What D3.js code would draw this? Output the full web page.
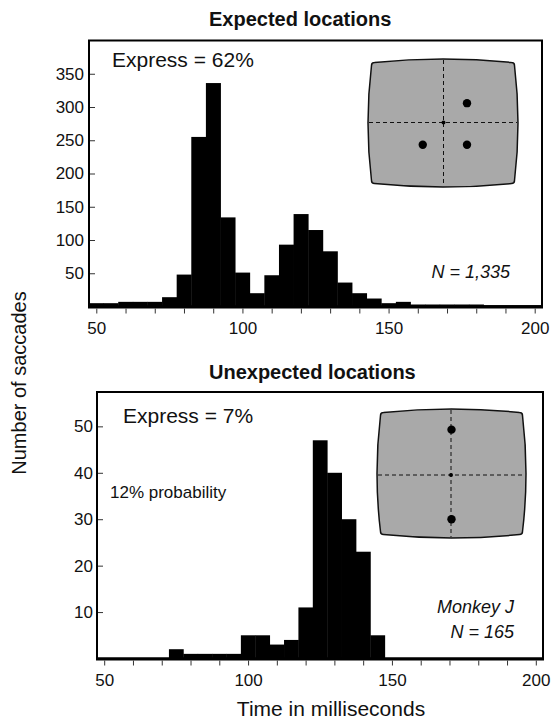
<!DOCTYPE html>
<html>
<head>
<meta charset="utf-8">
<script src="https://cdn.jsdelivr.net/npm/d3@7"></script>
<style>
  body { margin: 0; background: #fff; }
  text { font-family: "Liberation Sans", Arial, Helvetica, sans-serif; fill: #111; }
</style>
</head>
<body>
<svg id="chart" width="554" height="725"></svg>
<script>
// bin centres (ms), 5 ms bins
var binCenters = [50, 55, 60, 65, 70, 75, 80, 85, 90, 95, 100, 105, 110, 115, 120, 125,
                  130, 135, 140, 145, 150, 155, 160, 165, 170, 175, 180, 185, 190, 195, 200]

// number of saccades per bin
var expectedCounts = [5, 5, 7, 7, 7, 14, 48, 255, 336, 134, 51, 20, 47, 93, 139, 115,
                      83, 36, 20, 12, 5, 7, 3, 3, 3, 3, 3, 2, 2, 2, 2]
var unexpectedCounts = [0, 0, 0, 0, 0, 2, 1, 1, 1, 1, 5, 5, 3, 4, 11, 47,
                        40, 30, 23, 5, 0, 0, 0, 0, 0, 0, 0, 0, 0, 0, 0]

var xTicks = [50, 60, 70, 80, 90, 100, 110, 120, 130, 140, 150, 160, 170, 180, 190, 200]
var xTickLabels = [50, 100, 150, 200]
var expectedYTicks = [50, 100, 150, 200, 250, 300, 350]
var unexpectedYTicks = [10, 20, 30, 40, 50]

// target dots on the little screen, in screen units (-1..1)
var expectedTargets = [[0.32, -0.31], [-0.27, 0.34], [0.32, 0.34]]
var unexpectedTargets = [[0, -0.68], [0, 0.71]]

var svg = d3.select("#chart")
var fontMain = "Liberation Sans, Arial, sans-serif"

var panels = [
  {
    title: "Expected locations", titleX: 209, titleY: 26,
    counts: expectedCounts, yTicks: expectedYTicks, yMax: 400,
    left: 89, right: 542, top: 40.5, bottom: 306.5, labelGap: 6,
    express: "Express = 62%", expressX: 112, expressY: 67,
    notes: [{ text: "N = 1,335", x: 510, y: 278 }],
    screen: { x0: 368, x1: 518, y0: 59, y1: 187, cx: 443.5, cy: 122.5 },
    targets: expectedTargets
  },
  {
    title: "Unexpected locations", titleX: 209, titleY: 379,
    counts: unexpectedCounts, yTicks: unexpectedYTicks, yMax: 57.4,
    left: 97, right: 543, top: 392, bottom: 658.5, labelGap: 5,
    express: "Express = 7%", expressX: 123, expressY: 423,
    prob: { text: "12% probability", x: 110, y: 498 },
    notes: [{ text: "Monkey J", x: 514, y: 613 }, { text: "N = 165", x: 514, y: 638 }],
    screen: { x0: 377, x1: 526, y0: 409, y1: 538, cx: 451, cy: 475 },
    targets: unexpectedTargets
  }
]

function screenPath(s) {
  var b = 3.5, r = 3
  var x0 = s.x0 + b, x1 = s.x1 - b, y0 = s.y0 + b, y1 = s.y1 - b
  var mx = (x0 + x1) / 2, my = (y0 + y1) / 2
  var p = d3.path()
  p.moveTo(x0 + r, y0)
  p.quadraticCurveTo(mx, y0 - 2 * b, x1 - r, y0)
  p.quadraticCurveTo(x1, y0, x1, y0 + r)
  p.quadraticCurveTo(x1 + 2 * b, my, x1, y1 - r)
  p.quadraticCurveTo(x1, y1, x1 - r, y1)
  p.quadraticCurveTo(mx, y1 + 2 * b, x0 + r, y1)
  p.quadraticCurveTo(x0, y1, x0, y1 - r)
  p.quadraticCurveTo(x0 - 2 * b, my, x0, y0 + r)
  p.quadraticCurveTo(x0, y0, x0 + r, y0)
  p.closePath()
  return p.toString()
}

panels.forEach(function(pn) {
  var g = svg.append("g")

  var x = d3.scaleLinear().domain([47.5, 202.5]).range([pn.left, pn.right])
  var y = d3.scaleLinear().domain([0, pn.yMax]).range([pn.bottom, pn.top])

  // bars
  g.selectAll("rect.bar")
    .data(binCenters.map(function(c, i) { return { c: c, v: pn.counts[i] } }))
    .enter().append("rect")
    .attr("class", "bar")
    .attr("x", d => x(d.c - 2.5))
    .attr("width", d => x(d.c + 2.5) - x(d.c - 2.5) + 0.4)
    .attr("y", d => y(d.v))
    .attr("height", d => y(0) - y(d.v))
    .attr("fill", "#000")

  // frame
  g.append("rect")
    .attr("x", pn.left)
    .attr("y", pn.top)
    .attr("width", pn.right - pn.left)
    .attr("height", pn.bottom - pn.top)
    .attr("fill", "none")
    .attr("stroke", "#000")
    .attr("stroke-width", 2)
  g.append("line")
    .attr("x1", pn.left - 1).attr("x2", pn.right + 1)
    .attr("y1", pn.bottom + 0.5).attr("y2", pn.bottom + 0.5)
    .attr("stroke", "#000").attr("stroke-width", 3)

  // x axis
  var xAxis = g.append("g")
    .attr("transform", "translate(0," + (pn.bottom + 2) + ")")
    .call(d3.axisBottom(x).tickValues(xTicks).tickSize(5).tickPadding(8)
      .tickFormat(d => xTickLabels.indexOf(d) >= 0 ? d : ""))
  xAxis.select(".domain").remove()
  xAxis.selectAll("line").attr("stroke", "#333")
  xAxis.selectAll("text")
    .style("font-family", fontMain).style("font-size", "17px").attr("fill", "#222")

  // y axis (ticks point inward)
  var yAxis = g.append("g")
    .attr("transform", "translate(" + (pn.left + 1) + ",0)")
    .call(d3.axisLeft(y).tickValues(pn.yTicks).tickSize(-5).tickPadding(pn.labelGap))
  yAxis.select(".domain").remove()
  yAxis.selectAll("line").attr("stroke", "#333")
  yAxis.selectAll("text")
    .style("font-family", fontMain).style("font-size", "17px").attr("fill", "#222")

  // title
  g.append("text")
    .text(pn.title)
    .attr("x", pn.titleX).attr("y", pn.titleY)
    .style("font-size", "20px").style("font-weight", "bold")

  g.append("text")
    .text(pn.express)
    .attr("x", pn.expressX).attr("y", pn.expressY)
    .style("font-size", "21px")

  if (pn.prob) {
    g.append("text")
      .text(pn.prob.text)
      .attr("x", pn.prob.x).attr("y", pn.prob.y)
      .style("font-size", "17px")
  }

  pn.notes.forEach(function(n) {
    g.append("text")
      .text(n.text)
      .attr("x", n.x).attr("y", n.y)
      .attr("text-anchor", "end")
      .style("font-size", "18px").style("font-style", "italic")
  })

  // little screen inset
  var s = pn.screen
  g.append("path")
    .attr("d", screenPath(s))
    .attr("fill", "#a9a9a9")
    .attr("stroke", "#111")
    .attr("stroke-width", 1.5)
  g.append("line")
    .attr("x1", s.x0 + 1).attr("x2", s.x1 - 1)
    .attr("y1", s.cy).attr("y2", s.cy)
    .attr("stroke", "#111").attr("stroke-dasharray", "4,3")
  g.append("line")
    .attr("x1", s.cx).attr("x2", s.cx)
    .attr("y1", s.y0 + 1).attr("y2", s.y1 - 1)
    .attr("stroke", "#111").attr("stroke-dasharray", "4,3")
  g.append("circle")
    .attr("cx", s.cx).attr("cy", s.cy).attr("r", 2)
    .attr("fill", "#000")

  var sx = d3.scaleLinear().domain([-1, 1]).range([s.x0, s.x1])
  var sy = d3.scaleLinear().domain([-1, 1]).range([s.y0, s.y1])
  g.selectAll("circle.target")
    .data(pn.targets)
    .enter().append("circle")
    .attr("class", "target")
    .attr("cx", d => sx(d[0]))
    .attr("cy", d => sy(d[1]))
    .attr("r", 4.2)
    .attr("fill", "#000")
})

// shared axis labels
svg.append("text")
  .text("Number of saccades")
  .attr("transform", "translate(26,383) rotate(-90)")
  .attr("text-anchor", "middle")
  .style("font-size", "20px")

svg.append("text")
  .text("Time in milliseconds")
  .attr("x", 331).attr("y", 716)
  .attr("text-anchor", "middle")
  .style("font-size", "21px")
</script>
</body>
</html>
